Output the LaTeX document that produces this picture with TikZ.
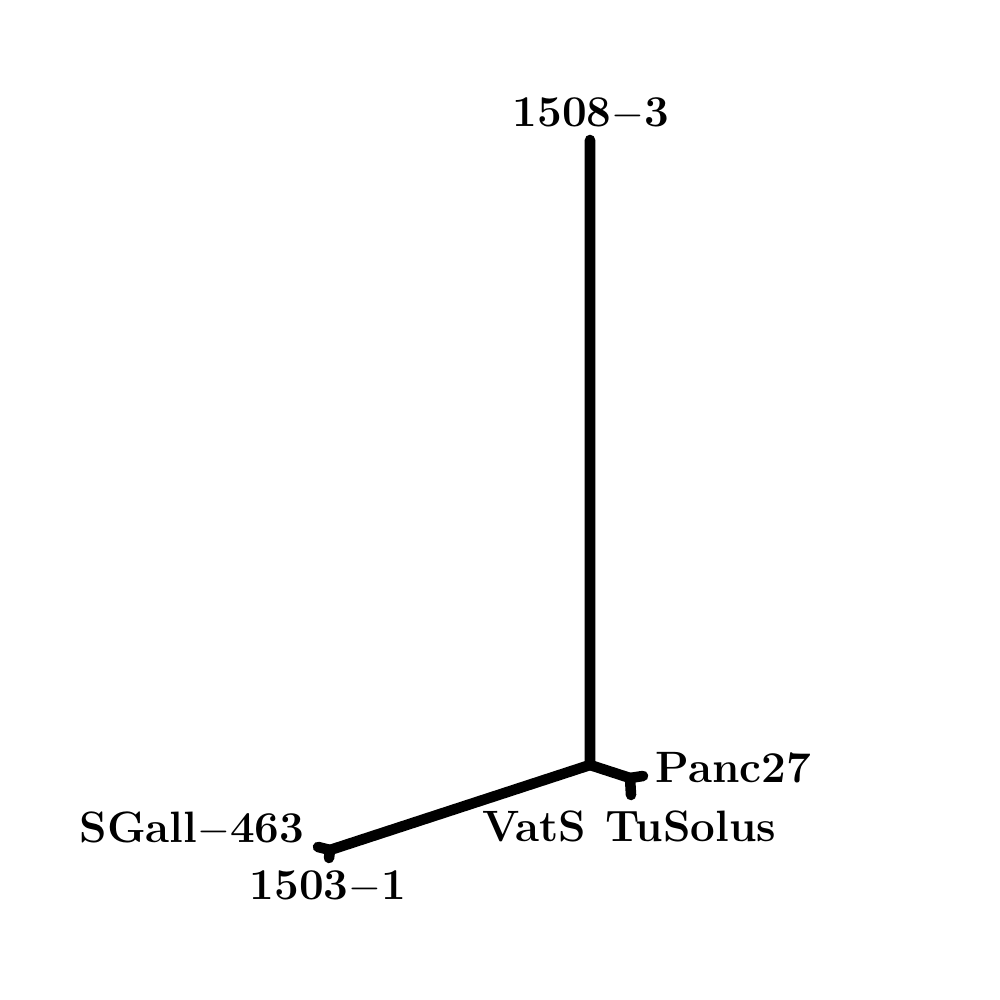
\documentclass[tikz,border=0pt]{standalone}
\begin{document}
\begin{tikzpicture}[scale=1,
    branch/.style={line width=3pt, line cap=round, line join=round},
    taxon/.style={font=\fontsize{12.5}{14}\selectfont\bfseries, inner sep=0pt}]
    % --- 画布大小 ---
    \useasboundingbox (0,0) rectangle (10,10);

    % --- 内部节点与叶节点 ---
    \coordinate (hub)   at (5.90, 2.35);
    \coordinate (top)   at (5.90, 8.60);
    \coordinate (left)  at (3.30, 1.50);
    \coordinate (sgall) at (3.18, 1.53);
    \coordinate (m1503) at (3.29, 1.42);
    \coordinate (right) at (6.30, 2.22);
    \coordinate (panc)  at (6.43, 2.24);
    \coordinate (vats)  at (6.31, 2.05);

    % --- 树枝 ---
    \draw[branch] (top) -- (hub) -- (left);
    \draw[branch] (hub) -- (right);
    \draw[branch] (sgall) -- (left) -- (m1503);
    \draw[branch] (panc) -- (right) -- (vats);

    % --- 标签 ---
    \node[taxon] (l1508) at (5.91, 8.86) {1508$-$3};
    \node[taxon, anchor=west] (lpanc) at (6.55, 2.32) {Panc27};
    \node[taxon] (lvats) at (5.34, 1.74) {VatS};
    \node[taxon] (ltus) at (6.91, 1.74) {TuSolus};
    \node[taxon] (lsgall) at (1.92, 1.71) {SGall$-$463};
    \node[taxon] (l1503) at (3.28, 1.13) {1503$-$1};
\end{tikzpicture}
\end{document}
